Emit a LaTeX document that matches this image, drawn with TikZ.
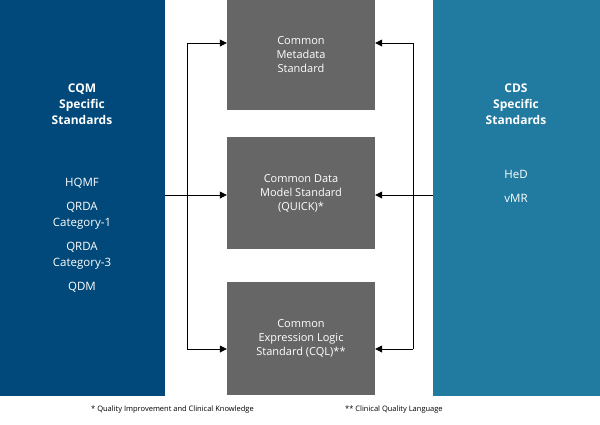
\documentclass[tikz,border=0pt]{standalone}
\usepackage{fontspec}
\setmainfont{Open Sans}
\usetikzlibrary{arrows.meta}
\definecolor{lb}{HTML}{00497A}
\definecolor{rb}{HTML}{217A9F}
\definecolor{gb}{HTML}{666666}
\begin{document}
\begin{tikzpicture}[x=1pt,y=-1pt,
  box/.style={fill=gb,text=white,inner sep=0,align=center,font=\fontsize{11}{14}\selectfont},
  pan/.style={inner sep=0,align=center,text=white},
  arr/.style={-{Triangle[length=7pt,width=7pt]},line width=0.8pt},
  ln/.style={line width=0.8pt}]
\useasboundingbox (0,0) rectangle (600,424);
\fill[lb] (0,0) rectangle (165,396);
\fill[rb] (433,0) rectangle (600,396);
\node[box,minimum width=148,minimum height=110] (m) at (301,55) {Common\\Metadata\\Standard};
\node[box,minimum width=148,minimum height=112] (d) at (301,193) {Common Data\\Model Standard\\(QUICK)*};
\node[box,minimum width=148,minimum height=113] (e) at (301,338.5) {Common\\Expression Logic\\Standard (CQL)**};
\node[pan,font=\bfseries\fontsize{12}{16}\selectfont] (lh) at (82,104) {CQM\\Specific\\Standards};
\node[pan,font=\fontsize{11.5}{16}\selectfont,align=center] (ll) at (82,235) {HQMF\\[8pt]QRDA\\Category-1\\[8pt]QRDA\\Category-3\\[8pt]QDM};
\node[pan,font=\bfseries\fontsize{12}{16}\selectfont] (rh) at (516,104) {CDS\\Specific\\Standards};
\node[pan,font=\fontsize{11.5}{16}\selectfont,align=center] (rl) at (516,186) {HeD\\[8pt]vMR};
\coordinate (ls) at (165,195);
\coordinate (lj) at (187,195);
\coordinate (lt) at (187,43);
\coordinate (lb2) at (187,349);
\coordinate (rs) at (433,195);
\coordinate (rj) at (413,195);
\coordinate (rt) at (413,43);
\coordinate (rb2) at (413,349);
\draw[ln] (lt) -- (lb2);
\draw[ln] (rt) -- (rb2);
\draw[arr] (ls) -- (d.west|-ls);
\draw[arr] (lt) -- (m.west|-lt);
\draw[arr] (lb2) -- (e.west|-lb2);
\draw[arr] (rs) -- (d.east|-rs);
\draw[arr] (rt) -- (m.east|-rt);
\draw[arr] (rb2) -- (e.east|-rb2);
\node[font=\fontsize{7.5}{9}\selectfont,anchor=west,inner sep=0] (f1) at (91,410) {* Quality Improvement and Clinical Knowledge};
\node[font=\fontsize{7.5}{9}\selectfont,anchor=west,inner sep=0] (f2) at (345,410) {** Clinical Quality Language};
\end{tikzpicture}
\end{document}
